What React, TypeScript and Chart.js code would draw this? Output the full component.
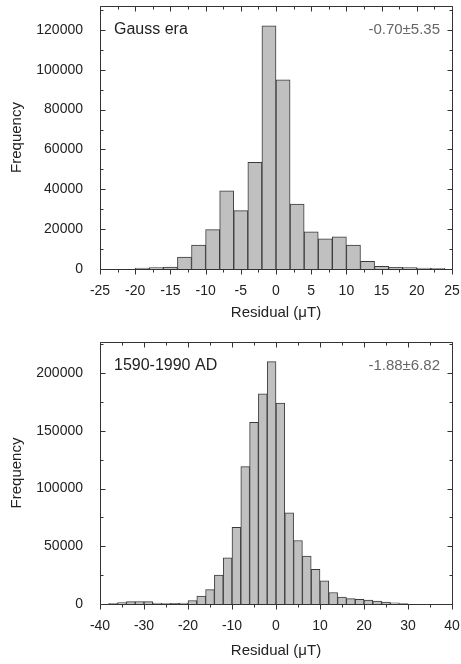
import React, { useEffect, useRef } from "react";
import { Chart, registerables } from "chart.js";

Chart.register(...registerables);

const FONT = '"Liberation Sans", Arial, Helvetica, sans-serif';

// ---- Panel 1: Gauss era ----
const gaussBinCenters = [-19, -17, -15, -13, -11, -9, -7, -5, -3, -1, 1, 3, 5, 7, 9, 11, 13, 15, 17, 19, 21, 23];
const gaussCounts = [400, 700, 1000, 6000, 12000, 19800, 39200, 29300, 53600, 122000, 95000, 32600, 18600, 15200, 16100, 12000, 3800, 1400, 800, 700, 500, 300];
const gaussXMajor = [-25, -20, -15, -10, -5, 0, 5, 10, 15, 20, 25];
const gaussXMinor = [-22.5, -17.5, -12.5, -7.5, -2.5, 2.5, 7.5, 12.5, 17.5, 22.5];
const gaussYMajor = [0, 20000, 40000, 60000, 80000, 100000, 120000];
const gaussYMinor = [10000, 30000, 50000, 70000, 90000, 110000, 130000];
const gaussLabel = "Gauss era";
const gaussStats = "-0.70±5.35";

// ---- Panel 2: 1590-1990 AD ----
const histBinCenters = [-37, -35, -33, -31, -29, -27, -25, -23, -21, -19, -17, -15, -13, -11, -9, -7, -5, -3, -1, 1, 3, 5, 7, 9, 11, 13, 15, 17, 19, 21, 23, 25, 27, 29];
const histCounts = [600, 1300, 2000, 2200, 2000, 900, 300, 500, 800, 3000, 6800, 12500, 25000, 40000, 66500, 119000, 157500, 182000, 210000, 174000, 79000, 55000, 41500, 30000, 20000, 10000, 6000, 4700, 4000, 3300, 2500, 1600, 1100, 400];
const histXMajor = [-40, -30, -20, -10, 0, 10, 20, 30, 40];
const histXMinor = [-35, -25, -15, -5, 5, 15, 25, 35];
const histYMajor = [0, 50000, 100000, 150000, 200000];
const histYMinor = [25000, 75000, 125000, 175000, 225000];
const histLabel = "1590-1990 AD";
const histStats = "-1.88±6.82";

const xTitle = "Residual (μT)";
const yTitle = "Frequency";

const framePlugin = {
  id: "frame",
  afterDatasetsDraw(chart: any, _args: any, opts: any) {
    const { ctx, chartArea } = chart;
    const { left, right, top, bottom } = chartArea;
    const xs = chart.scales.x;
    const ys = chart.scales.y;
    const L = left + 0.5, R = right + 0.5, T = top + 0.5, B = bottom + 0.5;
    ctx.save();
    ctx.strokeStyle = "#333";
    ctx.lineWidth = 1;
    ctx.beginPath();
    ctx.moveTo(L, T); ctx.lineTo(R, T); ctx.lineTo(R, B); ctx.lineTo(L, B); ctx.closePath();
    const px = (v: number) => Math.round(xs.getPixelForValue(v)) + 0.5;
    const py = (v: number) => Math.round(ys.getPixelForValue(v)) + 0.5;
    const xTicks = (vals: number[], len: number) => {
      vals.forEach((v) => {
        const p = px(v);
        ctx.moveTo(p, B); ctx.lineTo(p, B + len);
        ctx.moveTo(p, T); ctx.lineTo(p, T + len);
      });
    };
    const yTicks = (vals: number[], len: number) => {
      vals.forEach((v) => {
        const p = py(v);
        ctx.moveTo(L, p); ctx.lineTo(L + len, p);
        ctx.moveTo(R, p); ctx.lineTo(R - len, p);
      });
    };
    xTicks(opts.xMajor, 5);
    xTicks(opts.xMinor, 3);
    yTicks(opts.yMajor, 5);
    yTicks(opts.yMinor, 3);
    ctx.stroke();

    ctx.textBaseline = "middle";
    ctx.font = `16px ${FONT}`;
    ctx.fillStyle = "#222";
    ctx.textAlign = "left";
    ctx.fillText(opts.label, left + 14, top + 24);
    ctx.font = `15px ${FONT}`;
    ctx.fillStyle = "#666";
    ctx.textAlign = "right";
    ctx.fillText(opts.stats, right - 12, top + 24);
    ctx.restore();
  },
};

type PanelProps = {
  centers: number[];
  counts: number[];
  xMin: number;
  xMax: number;
  yMax: number;
  xMajor: number[];
  xMinor: number[];
  yMajor: number[];
  yMinor: number[];
  label: string;
  stats: string;
  height: number;
  padTop: number;
  axisH: number;
  titlePad: number;
  top: number;
};

function Panel(p: PanelProps) {
  const ref = useRef<HTMLCanvasElement | null>(null);
  useEffect(() => {
    if (!ref.current) return;
    const chart = new Chart(ref.current, {
      type: "bar",
      data: {
        datasets: [
          {
            data: p.centers.map((c, i) => ({ x: c, y: p.counts[i] })),
            backgroundColor: "#c0c0c0",
            borderColor: "#3a3a3a",
            borderWidth: 1,
            barPercentage: 1,
            categoryPercentage: 1,
          } as any,
        ],
      },
      options: {
        responsive: false,
        animation: false,
        devicePixelRatio: 1,
        layout: { padding: { left: 0, right: 9, top: p.padTop, bottom: 0 } },
        plugins: {
          legend: { display: false },
          tooltip: { enabled: false },
          frame: {
            xMajor: p.xMajor,
            xMinor: p.xMinor,
            yMajor: p.yMajor,
            yMinor: p.yMinor,
            label: p.label,
            stats: p.stats,
          },
        } as any,
        scales: {
          x: {
            type: "linear",
            min: p.xMin,
            max: p.xMax,
            offset: false,
            grid: { display: false },
            border: { display: false },
            afterBuildTicks: (s: any) => {
              s.ticks = p.xMajor.map((v) => ({ value: v }));
            },
            afterFit: (s: any) => {
              s.height = p.axisH;
              s.paddingLeft = 0;
              s.paddingRight = 0;
            },
            ticks: {
              autoSkip: false,
              maxRotation: 0,
              minRotation: 0,
              padding: 6,
              color: "#222",
              font: { family: FONT, size: 14 },
              callback: (v: any) => String(v),
            },
            title: {
              display: true,
              text: xTitle,
              color: "#222",
              font: { family: FONT, size: 15 },
              padding: { top: 0, bottom: p.titlePad },
            },
          } as any,
          y: {
            type: "linear",
            min: 0,
            max: p.yMax,
            grid: { display: false },
            border: { display: false },
            afterBuildTicks: (s: any) => {
              s.ticks = p.yMajor.map((v) => ({ value: v }));
            },
            afterFit: (s: any) => {
              s.width = 100;
              s.paddingTop = 0;
              s.paddingBottom = 0;
            },
            ticks: {
              autoSkip: false,
              padding: 9,
              color: "#222",
              font: { family: FONT, size: 14 },
              callback: (v: any) => String(v),
            },
            title: {
              display: true,
              text: yTitle,
              color: "#222",
              font: { family: FONT, size: 15 },
              padding: { top: 8, bottom: 0 },
            },
          } as any,
        },
      },
      plugins: [framePlugin as any],
    });
    return () => chart.destroy();
  }, []);
  return (
    <canvas
      ref={ref}
      width={461}
      height={p.height}
      style={{ position: "absolute", left: 0, top: p.top, width: 461, height: p.height, display: "block" }}
    />
  );
}

export default function App() {
  return (
    <div style={{ position: "absolute", left: 0, top: 0, width: 461, height: 664, background: "#fff", overflow: "hidden" }}>
      <Panel
        centers={gaussBinCenters}
        counts={gaussCounts}
        xMin={-25}
        xMax={25}
        yMax={132000}
        xMajor={gaussXMajor}
        xMinor={gaussXMinor}
        yMajor={gaussYMajor}
        yMinor={gaussYMinor}
        label={gaussLabel}
        stats={gaussStats}
        height={325}
        padTop={6}
        axisH={56}
        titlePad={3}
        top={0}
      />
      <Panel
        centers={histBinCenters}
        counts={histCounts}
        xMin={-40}
        xMax={40}
        yMax={227000}
        xMajor={histXMajor}
        xMinor={histXMinor}
        yMajor={histYMajor}
        yMinor={histYMinor}
        label={histLabel}
        stats={histStats}
        height={339}
        padTop={17}
        axisH={60}
        titlePad={4}
        top={325}
      />
    </div>
  );
}
